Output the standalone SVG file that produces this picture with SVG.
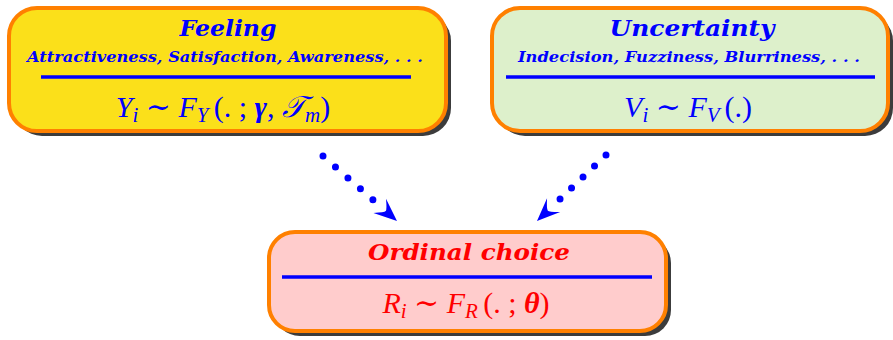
<svg xmlns="http://www.w3.org/2000/svg" width="893" height="340" viewBox="0 0 893 340">
<defs>
<style>
.shadow{fill:#3c3c3c}
.box{stroke:#ff8000;stroke-width:4}
.title{font-family:"DejaVu Serif","Liberation Serif",serif;font-weight:bold;font-style:italic;text-anchor:middle}
.sub{font-family:"DejaVu Serif","Liberation Serif",serif;font-weight:bold;font-style:italic;font-size:14px;text-anchor:middle;fill:#0000ff}
.rule{stroke:#0000ff;stroke-width:3.5}
.math{font-family:"Liberation Serif","DejaVu Serif",serif;font-size:30px;text-anchor:middle}
.it{font-style:italic}
.bi{font-style:italic;font-weight:bold}
.dots{fill:none;stroke:#0000ff;stroke-width:7;stroke-linecap:round}
</style>
<marker id="stealth" markerUnits="userSpaceOnUse" orient="auto" viewBox="-24 -11 26 22" refX="0" refY="0" markerWidth="26" markerHeight="22">
<path d="M0,0 L-23,-9.5 Q-15,-2 -15,0 Q-15,2 -23,9.5 Z" fill="#0000ff"/>
</marker>
</defs>

<g id="feeling">
<rect class="shadow" x="14" y="13" width="437" height="123" rx="28"/>
<rect class="box" x="9" y="8" width="437" height="123" rx="28" fill="#fbe01a"/>
<text class="title" x="228" y="36" font-size="23" fill="#0000ff" textLength="97" lengthAdjust="spacingAndGlyphs">Feeling</text>
<text class="sub" x="225" y="62" textLength="396" lengthAdjust="spacingAndGlyphs">Attractiveness, Satisfaction, Awareness, . . .</text>
<line class="rule" x1="41" y1="77" x2="411" y2="77"/>
<text class="math" x="223" y="117" fill="#0000ff"><tspan class="it">Y</tspan><tspan class="it" font-size="21" dy="5">i</tspan><tspan dy="-5"> ∼ </tspan><tspan class="it">F</tspan><tspan class="it" font-size="21" dy="5">Y </tspan><tspan dy="-5">(. ; </tspan><tspan class="bi">γ</tspan><tspan>, </tspan><tspan class="it">𝒯</tspan><tspan class="it" font-size="21" dy="5">m</tspan><tspan dy="-5">)</tspan></text>
</g>

<g id="uncertainty">
<rect class="shadow" x="497" y="13" width="396" height="123" rx="28"/>
<rect class="box" x="492" y="8" width="396" height="123" rx="28" fill="#ddf0cb"/>
<text class="title" x="692" y="36" font-size="23" fill="#0000ff" textLength="165" lengthAdjust="spacingAndGlyphs">Uncertainty</text>
<text class="sub" x="689" y="62" textLength="342" lengthAdjust="spacingAndGlyphs">Indecision, Fuzziness, Blurriness, . . .</text>
<line class="rule" x1="506" y1="77" x2="875" y2="77"/>
<text class="math" x="688" y="117" fill="#0000ff"><tspan class="it">V</tspan><tspan class="it" font-size="21" dy="5">i</tspan><tspan dy="-5"> ∼ </tspan><tspan class="it">F</tspan><tspan class="it" font-size="21" dy="5">V </tspan><tspan dy="-5">(.)</tspan></text>
</g>

<g id="ordinal">
<rect class="shadow" x="274" y="237" width="397" height="99" rx="26"/>
<rect class="box" x="269" y="232" width="397" height="99" rx="26" fill="#ffcccc"/>
<text class="title" x="469" y="260" font-size="23" fill="#ff0000" textLength="202" lengthAdjust="spacingAndGlyphs">Ordinal choice</text>
<line class="rule" x1="282" y1="277" x2="652" y2="277"/>
<text class="math" x="466" y="313" fill="#ff0000"><tspan class="it">R</tspan><tspan class="it" font-size="21" dy="5">i</tspan><tspan dy="-5"> ∼ </tspan><tspan class="it">F</tspan><tspan class="it" font-size="21" dy="5">R </tspan><tspan dy="-5">(. ; </tspan><tspan class="bi">θ</tspan><tspan>)</tspan></text>
</g>

<g id="connectors">
<path class="dots" d="M323,156 L397,221" stroke-dasharray="0 16.6 0 16.6 0 16.6 0 16.6 0 200" marker-end="url(#stealth)"/>
<path class="dots" d="M606,155 L537,221" stroke-dasharray="0 15.9 0 15.9 0 15.9 0 15.9 0 200" marker-end="url(#stealth)"/>
</g>
</svg>
